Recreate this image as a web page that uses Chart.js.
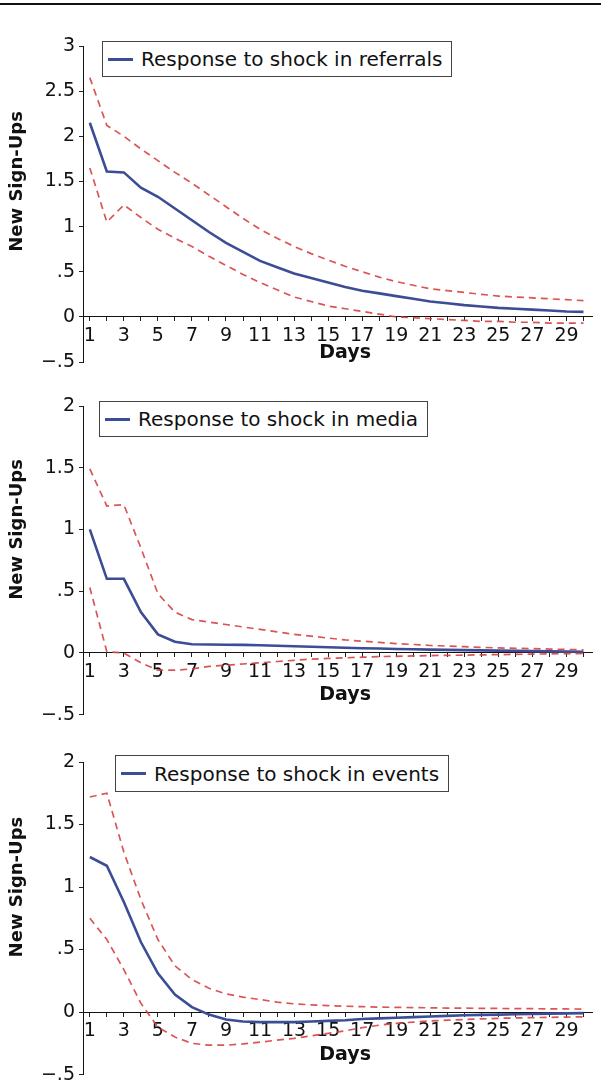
<!DOCTYPE html>
<html>
<head>
<meta charset="utf-8">
<script src="https://cdn.jsdelivr.net/npm/chart.js@4.4.1/dist/chart.umd.min.js"></script>
<style>
  html, body { margin: 0; padding: 0; overflow: hidden; background: #fff; }
  #page { position: relative; width: 601px; height: 1082px; }
  .rule { position: absolute; left: 0; top: 3px; width: 601px; height: 2px; background: #111; }
  .panel { position: absolute; left: 0; width: 601px; }
  .legend {
    position: absolute; display: inline-flex; align-items: center; box-sizing: border-box;
    height: 36px; padding-right: 9px; border: 1px solid #444; background: #fff;
    font: 20px "DejaVu Sans", sans-serif; color: #111; white-space: nowrap;
  }
  .legend i { display: inline-block; width: 25px; height: 3px; background: #3b4d94; margin: 0 8px 0 5px; }
</style>
</head>
<body>
<div id="page">
  <div class="rule"></div>
  <div class="panel" style="top:0;height:380px"><canvas id="c1" width="601" height="380"></canvas></div>
  <div class="panel" style="top:380px;height:350px"><canvas id="c2" width="601" height="350"></canvas></div>
  <div class="panel" style="top:730px;height:360px"><canvas id="c3" width="601" height="360"></canvas></div>
  <div class="legend" id="l1" style="left:102px;top:41px"></div>
  <div class="legend" id="l2" style="left:99px;top:401px"></div>
  <div class="legend" id="l3" style="left:115px;top:755px;height:37px"></div>
</div>
<script>
// Days after the shock
const days = [1, 2, 3, 4, 5, 6, 7, 8, 9, 10, 11, 12, 13, 14, 15, 16, 17, 18, 19, 20, 21, 22, 23, 24, 25, 26, 27, 28, 29, 30];

// Response to shock in referrals (estimate, upper and lower band)
const refMid = [2.15, 1.61, 1.60, 1.43, 1.33, 1.20, 1.07, 0.94, 0.82, 0.72, 0.62, 0.55, 0.48, 0.43, 0.38, 0.33, 0.29, 0.26, 0.23, 0.20, 0.17, 0.15, 0.13, 0.115, 0.10, 0.09, 0.08, 0.07, 0.06, 0.055];
const refHi = [2.65, 2.12, 2.00, 1.86, 1.73, 1.60, 1.48, 1.35, 1.22, 1.09, 0.97, 0.87, 0.78, 0.70, 0.63, 0.56, 0.50, 0.44, 0.39, 0.35, 0.31, 0.29, 0.27, 0.25, 0.23, 0.22, 0.21, 0.20, 0.19, 0.18];
const refLo = [1.65, 1.05, 1.24, 1.10, 0.97, 0.87, 0.78, 0.67, 0.57, 0.47, 0.38, 0.30, 0.22, 0.17, 0.12, 0.09, 0.06, 0.03, 0.0, -0.01, -0.02, -0.03, -0.04, -0.05, -0.05, -0.06, -0.06, -0.07, -0.07, -0.07];

// Response to shock in media
const medMid = [1.0, 0.60, 0.60, 0.33, 0.15, 0.09, 0.07, 0.068, 0.066, 0.065, 0.062, 0.058, 0.054, 0.05, 0.046, 0.042, 0.038, 0.035, 0.032, 0.029, 0.026, 0.024, 0.022, 0.02, 0.018, 0.016, 0.014, 0.012, 0.01, 0.008];
const medHi = [1.49, 1.19, 1.20, 0.85, 0.48, 0.33, 0.27, 0.25, 0.23, 0.21, 0.19, 0.17, 0.15, 0.135, 0.12, 0.105, 0.095, 0.085, 0.075, 0.068, 0.06, 0.055, 0.05, 0.045, 0.04, 0.037, 0.034, 0.031, 0.028, 0.025];
const medLo = [0.53, 0.01, 0.0, -0.08, -0.14, -0.14, -0.13, -0.11, -0.10, -0.09, -0.08, -0.07, -0.06, -0.05, -0.045, -0.04, -0.035, -0.03, -0.028, -0.025, -0.022, -0.02, -0.018, -0.016, -0.014, -0.012, -0.01, -0.008, -0.006, -0.005];

// Response to shock in events
const evtMid = [1.24, 1.17, 0.88, 0.56, 0.31, 0.14, 0.04, -0.02, -0.06, -0.075, -0.08, -0.08, -0.08, -0.075, -0.07, -0.065, -0.055, -0.05, -0.045, -0.04, -0.035, -0.03, -0.025, -0.022, -0.02, -0.017, -0.015, -0.012, -0.01, -0.008];
const evtHi = [1.72, 1.75, 1.28, 0.90, 0.58, 0.37, 0.26, 0.19, 0.145, 0.12, 0.10, 0.08, 0.066, 0.058, 0.052, 0.047, 0.043, 0.04, 0.038, 0.036, 0.034, 0.032, 0.031, 0.03, 0.029, 0.028, 0.027, 0.026, 0.025, 0.024];
const evtLo = [0.75, 0.58, 0.34, 0.07, -0.12, -0.20, -0.25, -0.265, -0.265, -0.255, -0.24, -0.225, -0.21, -0.19, -0.17, -0.15, -0.125, -0.105, -0.09, -0.08, -0.07, -0.065, -0.06, -0.055, -0.05, -0.047, -0.044, -0.042, -0.04, -0.038];

// Axis ticks and labels
const yTicksRef = [-0.5, 0, 0.5, 1, 1.5, 2, 2.5, 3];
const yTicksSmall = [-0.5, 0, 0.5, 1, 1.5, 2];
const xTickLabels = ['1', '3', '5', '7', '9', '11', '13', '15', '17', '19', '21', '23', '25', '27', '29'];
const legendLabels = ['Response to shock in referrals', 'Response to shock in media', 'Response to shock in events'];
const xTitle = 'Days';
const yTitle = 'New Sign-Ups';

const BLUE = '#3b4d94';
const RED = 'rgba(214, 66, 66, 0.9)';
const FONT = '"DejaVu Sans", sans-serif';

// Stata style number format: ".5", "−.5"
function fmt(v) {
  if (v === 0) return '0';
  let s = String(v).replace(/^(-?)0\./, '$1.');
  return s.replace('-', '\u2212');
}

// draws the axis titles ("Days" under the zero line, y title centred on the positive part)
const axisTitles = {
  id: 'axisTitles',
  afterDraw(chart, args, opts) {
    const { ctx, scales: { x, y } } = chart;
    const y0 = y.getPixelForValue(0);
    ctx.save();
    ctx.fillStyle = '#111';
    ctx.font = 'bold 19px ' + FONT;
    ctx.textAlign = 'center';
    ctx.textBaseline = 'middle';
    ctx.fillText(xTitle, x.getPixelForValue(16), y0 + opts.daysGap);
    ctx.font = 'bold 18px ' + FONT;
    ctx.translate(17, (y.top + y0) / 2);
    ctx.rotate(-Math.PI / 2);
    ctx.fillText(yTitle, 0, 0);
    ctx.restore();
  }
};

function makeChart(id, mid, hi, lo, yTicks, pad, daysGap) {
  const pts = arr => days.map((d, i) => ({ x: d, y: arr[i] }));
  const band = arr => ({
    data: pts(arr), borderColor: RED, borderWidth: 1.7, borderDash: [7, 5],
    pointRadius: 0, tension: 0, fill: false
  });
  return new Chart(document.getElementById(id), {
    type: 'line',
    data: {
      datasets: [
        band(hi),
        band(lo),
        { data: pts(mid), borderColor: BLUE, borderWidth: 2.6, pointRadius: 0, tension: 0, fill: false }
      ]
    },
    options: {
      responsive: false,
      animation: false,
      layout: { padding: pad },
      plugins: { legend: { display: false }, tooltip: { enabled: false }, axisTitles: { daysGap: daysGap } },
      scales: {
        x: {
          type: 'linear',
          position: { y: 0 },
          min: 0.6,
          max: 30.5,
          afterBuildTicks: s => { s.ticks = days.map(d => ({ value: d })); },
          ticks: {
            autoSkip: false, maxRotation: 0, padding: 4, color: '#111',
            font: { family: FONT, size: 19 },
            callback: v => xTickLabels.includes(String(v)) ? String(v) : ''
          },
          grid: { drawOnChartArea: false, drawTicks: true, tickLength: 4, color: '#222' },
          border: { display: true, color: '#111', width: 1 }
        },
        y: {
          min: yTicks[0],
          max: yTicks[yTicks.length - 1],
          afterBuildTicks: s => { s.ticks = yTicks.map(v => ({ value: v })); },
          afterFit: s => { s.width = 83; },
          ticks: { autoSkip: false, padding: 4, color: '#111', font: { family: FONT, size: 19 }, callback: v => fmt(v) },
          grid: { drawOnChartArea: false, drawTicks: true, tickLength: 4, color: '#222' },
          border: { display: true, color: '#111', width: 1 }
        }
      }
    },
    plugins: [axisTitles]
  });
}

makeChart('c1', refMid, refHi, refLo, yTicksRef, { left: 0, right: 9, top: 46, bottom: 18 }, 36);
makeChart('c2', medMid, medHi, medLo, yTicksSmall, { left: 0, right: 9, top: 26, bottom: 10 }, 42);
makeChart('c3', evtMid, evtHi, evtLo, yTicksSmall, { left: 0, right: 9, top: 32, bottom: 15 }, 43);

// HTML legends with a framed box
['l1', 'l2', 'l3'].forEach((id, i) => {
  const el = document.getElementById(id);
  el.innerHTML = '<i></i><span></span>';
  el.querySelector('span').textContent = legendLabels[i];
});
</script>
</body>
</html>
